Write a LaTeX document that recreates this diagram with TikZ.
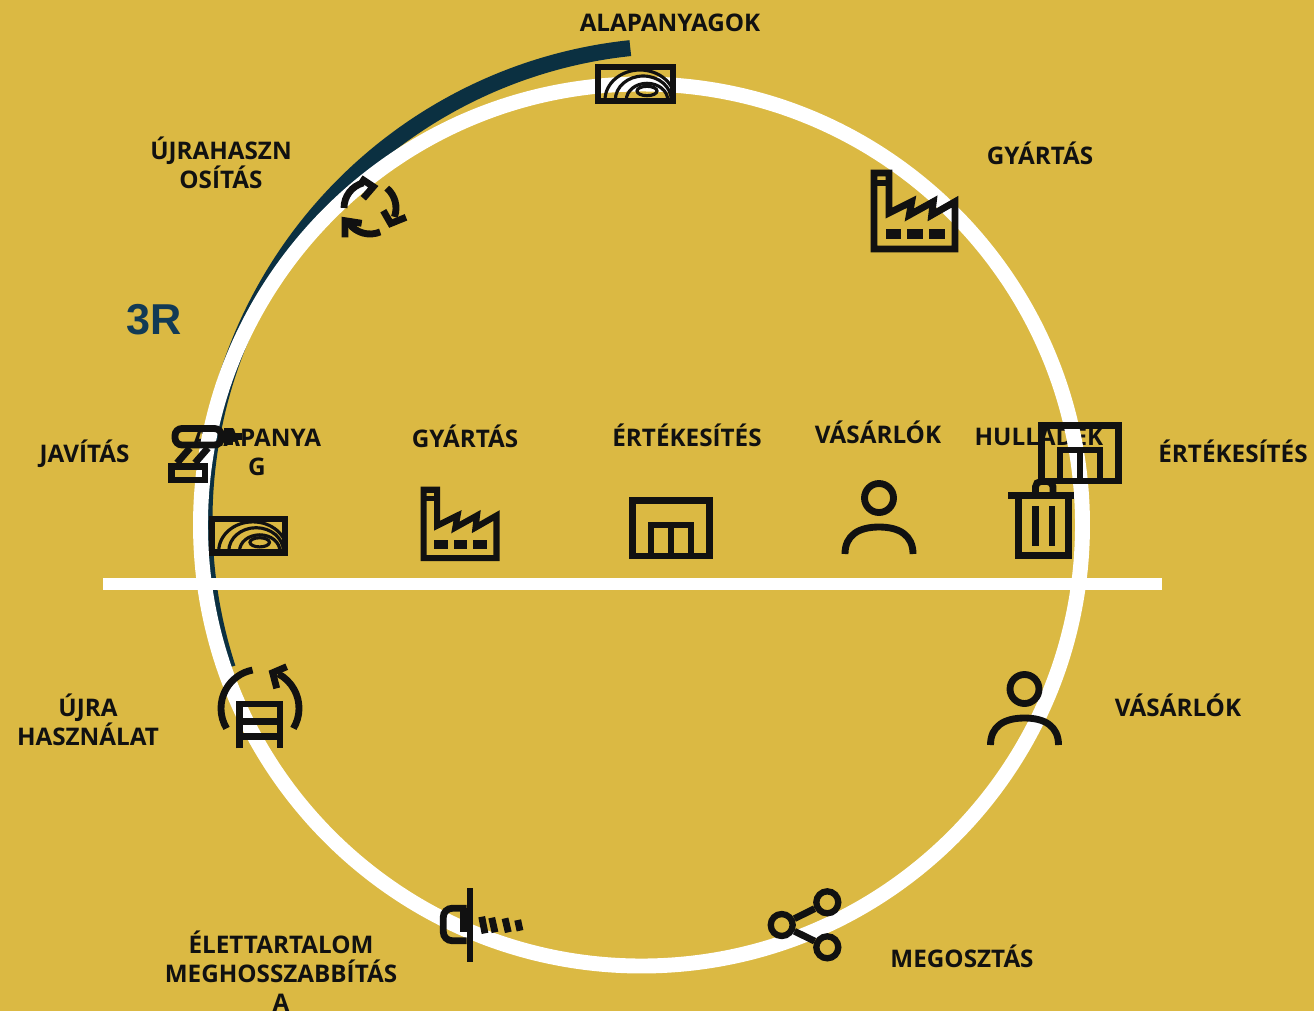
\documentclass[tikz,border=0pt]{standalone}
\usepackage{fontspec}
\setmainfont{Open Sans}
\newfontfamily\rfont{Liberation Sans}
\definecolor{bggold}{HTML}{DBB943}
\definecolor{inkblack}{HTML}{111111}
\definecolor{darknavy}{HTML}{0B3041}
\definecolor{rblue}{HTML}{123A55}
\tikzset{
	lbl/.style={font=\fontsize{13.8}{16.45}\selectfont\bfseries, text=inkblack, align=center, inner sep=0pt},
	iconline/.style={line width=3.9pt},
	sharedot/.style={circle, draw=inkblack, line width=3.6pt, minimum size=12.5pt, inner sep=0pt},
	pics/wood/.style={code={
		\begin{scope}
			\clip (3,3) rectangle (78,37);
			\draw[inkblack, line width=1.8pt] (52,27) ellipse [x radius=10, y radius=4.7];
			\draw[inkblack, line width=1.8pt] (52,36) ellipse [x radius=20.7, y radius=16.7];
			\draw[inkblack, line width=1.8pt] (48.3,36) ellipse [x radius=28, y radius=24];
			\draw[inkblack, line width=1.8pt] (45,36) ellipse [x radius=35, y radius=30];
		\end{scope}
		\draw[inkblack] (3,3) rectangle (78,37);
	}},
	pics/factory/.style={code={
		\draw[inkblack] (19,43) -- (41.7,31.7) -- (39.3,45) -- (63.3,31.7) -- (61.7,45) -- (85,31.7) -- (85,79) -- (4,79) -- (4,3) -- (19,3) -- cycle;
		\fill[inkblack] (4,10) rectangle (19,16);
		\fill[inkblack] (15.7,59) rectangle (30.7,69);
		\fill[inkblack] (37.3,59) rectangle (52.7,69);
		\fill[inkblack] (59.3,59) rectangle (74.7,69);
	}},
	pics/shop/.style={code={
		\draw[inkblack] (3.2,3.2) rectangle (80.8,59);
		\draw[inkblack] (22,59) -- (22,28) -- (62,28) -- (62,59);
		\draw[inkblack] (42,28) -- (42,59);
	}},
	pics/person/.style={code={
		\draw[inkblack] (0,18) circle [radius=14.5];
		\draw[inkblack] (-34,74) .. controls (-34,55) and (-20,47) .. (0,47) .. controls (20,47) and (34,55) .. (34,74);
	}},
}
\begin{document}
\begin{tikzpicture}[x=0.02cm,y=-0.02cm]
	\useasboundingbox (0,0) rectangle (1314,1011);
	\fill[bggold] (0,0) rectangle (1314,1011);

	\draw[darknavy, line width=9.07pt] ([shift={(264:475.5)}]680,521) arc (264:162:475.5);

	\node[lbl] (lblraw) at (670,23) {ALAPANYAGOK};
	\node[lbl] (lblmake) at (1040,153.5) {GYÁRTÁS};
	\node[lbl] (lblrecycle) at (221,162.5) {ÚJRAHASZN\\OSÍTÁS};
	\node[font=\rfont\fontsize{24.6}{28}\selectfont\bfseries, text=rblue, inner sep=0pt] (lblthreer) at (154.5,320) {3R};
	\node[lbl] (lblrepair) at (84.5,453.5) {JAVÍTÁS};
	\node[lbl] (lblsell) at (1233,451.5) {ÉRTÉKESÍTÉS};
	\node[lbl] (lblbuy) at (1178,705.5) {VÁSÁRLÓK};
	\node[lbl] (lblreuse) at (88,720) {ÚJRA\\HASZNÁLAT};
	\node[lbl] (lblshare) at (962,956.5) {MEGOSZTÁS};
	\node[lbl] (lbllife) at (281,971) {ÉLETTARTALOM\\MEGHOSSZABBÍTÁS\\A};

	\node[lbl] (lblrawmid) at (257,452) {ALAPANYA\\G};
	\node[lbl] (lblmakemid) at (465,436.5) {GYÁRTÁS};
	\node[lbl] (lblsellmid) at (687,435.5) {ÉRTÉKESÍTÉS};
	\node[lbl] (lblbuymid) at (878,432.5) {VÁSÁRLÓK};
	\node[lbl] (lblwaste) at (1039,434.5) {HULLADÉK};

	\draw[white, line width=8.5pt] (641.5,525) circle [radius=441];
	\fill[white] (103,578) rectangle (1162,590);

	\pic[iconline] (woodtop) at (595,64) {wood};
	\pic[iconline, scale=.975] (woodmid) at (209,516) {wood};
	\pic[iconline] (factorytop) at (870,170) {factory};
	\pic[iconline, line width=3.5pt, scale=.9] (factorymid) at (420,487) {factory};
	\pic[iconline] (shopmid) at (629,497) {shop};
	\pic[iconline] (personmid) at (879,480) {person};
	\pic[iconline] (personlow) at (1024.5,671) {person};

	\draw[inkblack, iconline, rounded corners=3] (1035.5,492) -- (1035.5,481.5) -- (1053,481.5) -- (1053,492);
	\draw[inkblack, iconline] (1008,495.5) -- (1074,495.5);
	\draw[inkblack, iconline] (1018.5,495.5) -- (1018.5,555.7) -- (1068.5,555.7) -- (1068.5,495.5);
	\fill[inkblack] (1032,505.7) rectangle (1038.5,545.7);
	\fill[inkblack] (1048.5,505.7) rectangle (1055,545.7);

	\pic[iconline] (shoptop) at (1038,422) {shop};

	\draw[inkblack, iconline] ([shift={(180:26)}]370,208) arc (180:255:26);
	\draw[inkblack, iconline] (360.7,178.3) -- (373.3,186.7) -- (363.3,198.3);
	\draw[inkblack, iconline] ([shift={(-50:26)}]370,208) arc (-50:20:26);
	\draw[inkblack, iconline] (383.3,210.7) -- (390.7,223.5) -- (406,217.3);
	\draw[inkblack, iconline] ([shift={(67:26)}]370,208) arc (67:142:26);
	\draw[inkblack, iconline] (361.7,223.3) -- (345,220.7) -- (345,237.3);

	\draw[inkblack, iconline, rounded corners=4] (175,428.5) rectangle (221.5,445);
	\fill[inkblack] (224,428) rectangle (233,445);
	\fill[inkblack] (233,433) rectangle (242,440);
	\draw[inkblack, iconline] (190,448) -- (177,463);
	\draw[inkblack, iconline] (208,448) -- (195,463);
	\draw[inkblack, iconline] (171.5,466.5) rectangle (205,480);

	\draw[inkblack, iconline] (239.3,748.3) -- (239.3,704) -- (280,704) -- (280,748.3);
	\draw[inkblack, iconline] (239.3,721.7) -- (280,721.7);
	\draw[inkblack, iconline] (239.3,736.7) -- (280,736.7);
	\draw[inkblack, iconline] ([shift={(149:39)}]260,708.3) arc (149:259:39);
	\draw[inkblack, iconline] ([shift={(31:39)}]260,708.3) arc (31:-62:39);
	\draw[inkblack, iconline] (286.7,666.7) -- (272.7,672.7) -- (276.7,688.3);

	\draw[inkblack, iconline] (470,888) -- (470,962);
	\draw[inkblack, iconline, rounded corners=5] (466.7,908.3) -- (443.3,908.3) -- (443.3,940.7) -- (466.7,940.7);
	\fill[inkblack] (460,908) rectangle (467,932);
	\draw[inkblack, iconline] (481.7,916.7) -- (485,933.3);
	\draw[inkblack, iconline] (491.7,917.7) -- (495,932.3);
	\draw[inkblack, iconline] (505,918.3) -- (508.3,932.3);
	\draw[inkblack, iconline] (517.7,920) -- (520,930.7);

	\node[sharedot] (sharehub) at (781.7,925) {};
	\node[sharedot] (sharetop) at (827.3,902.3) {};
	\node[sharedot] (sharelow) at (827.3,947.3) {};
	\draw[inkblack, iconline] (sharehub) -- (sharetop);
	\draw[inkblack, iconline] (sharehub) -- (sharelow);
\end{tikzpicture}
\end{document}
